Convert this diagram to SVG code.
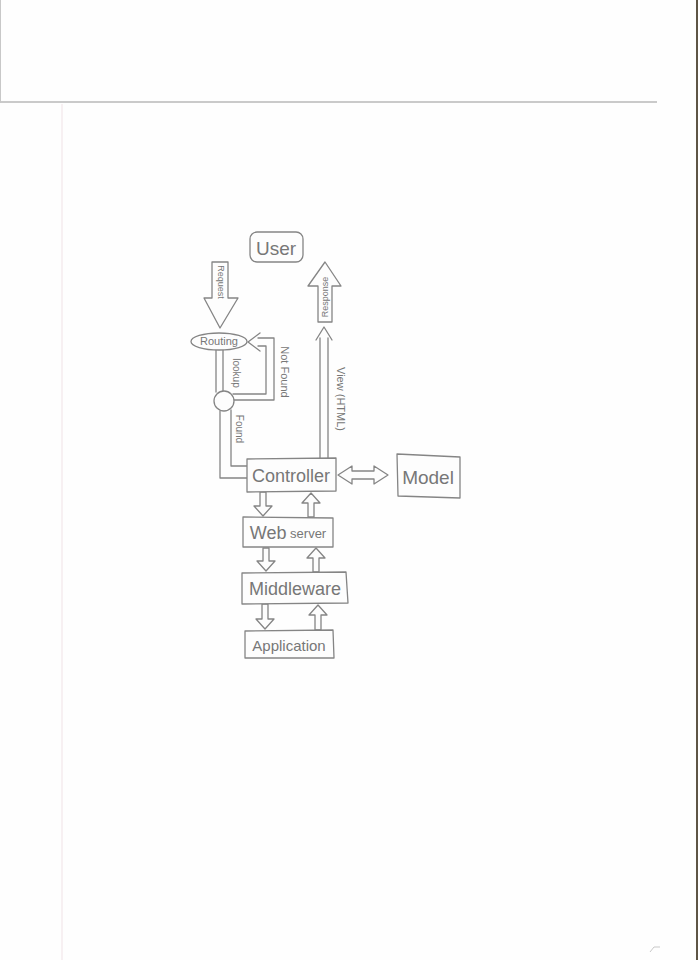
<svg xmlns="http://www.w3.org/2000/svg" width="698" height="960" viewBox="0 0 698 960">
<style>
.s{fill:none;stroke:#858585;stroke-width:1.3;stroke-linejoin:round;stroke-linecap:round}
.b{fill:#fdfdfd;stroke:#858585;stroke-width:1.3;stroke-linejoin:round}
.t{font-family:"Liberation Sans","DejaVu Sans",sans-serif;fill:#777;text-anchor:middle;dominant-baseline:central}
</style>
<rect x="0" y="0" width="698" height="960" fill="#fefefe"/>
<g id="paper">
<line x1="0" y1="102" x2="657" y2="102" stroke="#b8b8b8" stroke-width="1.5"/>
<line x1="0.5" y1="0" x2="0.5" y2="103" stroke="#c8c8c8" stroke-width="1"/>
<line x1="62" y1="104" x2="62" y2="960" stroke="#f2e6ea" stroke-width="1.2"/>
<line x1="697" y1="0" x2="697" y2="960" stroke="#5e5546" stroke-width="2"/>
<path d="M650 952 L654 947 L660 947" fill="none" stroke="#c8c8c8" stroke-width="1"/>
</g>
<g id="connectors">
<polygon id="request" class="b" points="212,262 228,262 228,298 238,298 220,328 204,298 212,298"/>
<polygon id="response" class="b" points="318,322 318,286 308,286 325,262 341,286 332,286 332,322"/>
<path class="s" d="M216 350 L216 392 M223 350 L223 391"/>
<path class="s" d="M258 338 L274 338 L274 400 L233 400 M258 346 L266 346 L266 394 L233 394"/>
<path class="s" d="M248 342 L260 333 M248 342 L260 351"/>
<path class="s" d="M220 411 L220 478 L247 478 M231 410 L231 466 L247 466"/>
<path class="s" d="M320 458 L320 338 M328 458 L328 338 M316 340 L324 327 L332 340"/>
<polygon class="b" points="338,475 352,466 352,471 374,471 374,466 388,475 374,484 374,479 352,479 352,484"/>
<polygon class="b" points="260,492 266,492 266,506 272,506 263,516 254,506 260,506"/>
<polygon class="b" points="308,517 314,517 314,503 320,503 311,493 302,503 308,503"/>
<polygon class="b" points="263,548 269,548 269,561 275,561 266,571 257,561 263,561"/>
<polygon class="b" points="313,572 319,572 319,558 325,558 316,548 307,558 313,558"/>
<polygon class="b" points="262,604 268,604 268,619 274,619 265,629 256,619 262,619"/>
<polygon class="b" points="315,630 321,630 321,615 327,615 318,605 309,615 315,615"/>
</g>
<g id="user"><rect class="b" x="250" y="232" width="53" height="30" rx="7"/><text class="t" x="276" y="248" font-size="19">User</text></g>
<g id="routing"><ellipse class="b" cx="219" cy="341.5" rx="28" ry="8.5"/><text class="t" x="219" y="341" font-size="11">Routing</text></g>
<g id="junction"><circle class="b" cx="224" cy="401" r="10"/></g>
<g id="labels">
<text class="t" font-size="9" transform="translate(221,282) rotate(90)">Request</text>
<text class="t" font-size="9" transform="translate(325,297) rotate(-90)">Response</text>
<text class="t" font-size="11" transform="translate(285,372) rotate(90)">Not Found</text>
<text class="t" font-size="10" transform="translate(236,373) rotate(90)">lookup</text>
<text class="t" font-size="10" transform="translate(239,429) rotate(90)">Found</text>
<text class="t" font-size="11" transform="translate(341,399) rotate(90)">View (HTML)</text>
</g>
<g id="controller"><polygon class="b" points="247,459 336,458 336,491 247,492"/><text class="t" x="291" y="476" font-size="18">Controller</text></g>
<g id="model"><polygon class="b" points="397,454 460,457 460,498 398,496"/><text class="t" x="428" y="477" font-size="19">Model</text></g>
<g id="webserver"><polygon class="b" points="243,517 333,518 333,547 243,547"/><text class="t" x="288" y="533"><tspan font-size="18">Web</tspan><tspan font-size="13"> server</tspan></text></g>
<g id="middleware"><polygon class="b" points="242,573 346,572 348,603 242,604"/><text class="t" x="295" y="589" font-size="18">Middleware</text></g>
<g id="application"><polygon class="b" points="245,631 333,630 334,658 245,658"/><text class="t" x="289" y="645" font-size="15">Application</text></g>
</svg>
